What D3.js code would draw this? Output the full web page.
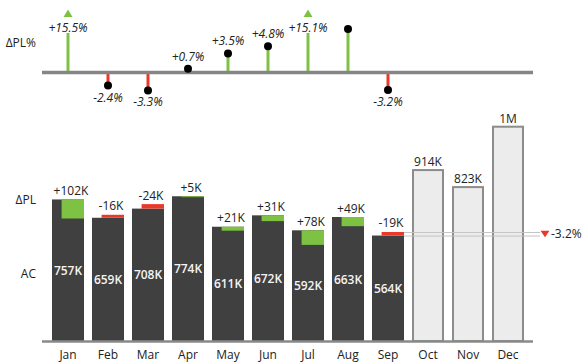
<!DOCTYPE html>
<html>
<head>
<meta charset="utf-8">
<script src="https://cdnjs.cloudflare.com/ajax/libs/d3/7.8.5/d3.min.js"></script>
<style>
  html, body { margin: 0; padding: 0; background: #fff; }
  svg { display: block; font-family: 'Open Sans', sans-serif; }
</style>
</head>
<body>
<div id="chart"></div>
<script>
// données (K)
const months = ['Jan', 'Feb', 'Mar', 'Apr', 'May', 'Jun', 'Jul', 'Aug', 'Sep', 'Oct', 'Nov', 'Dec'];
const ac = [757, 659, 708, 774, 611, 672, 592, 663, 564];          // Jan–Sep actual
const dpl = [102, -16, -24, 5, 21, 31, 78, 49, -19];              // AC - PL
const acLabels = ['757K', '659K', '708K', '774K', '611K', '672K', '592K', '663K', '564K'];
const dplLabels = ['+102K', '-16K', '-24K', '+5K', '+21K', '+31K', '+78K', '+49K', '-19K'];
const fc = [914, 823, 1146];                                        // Oct–Dec forecast
const fcLabels = ['914K', '823K', '1M'];
const dplPct = [15.5, -2.4, -3.3, 0.7, 3.5, 4.8, 15.1, 8.0, -3.2];
const dplPctLabels = ['+15.5%', '-2.4%', '-3.3%', '+0.7%', '+3.5%', '+4.8%', '+15.1%', '', '-3.2%'];
const yearPct = -3.2;
const yearPctLabel = '-3.2%';

const W = 587, H = 362;
const GREEN = '#7dc242', RED = '#e8392b', DARK = '#404040';

const svg = d3.select('#chart').append('svg').attr('width', W).attr('height', H);

const x = d3.scaleBand().domain(months).range([48, 528]).paddingInner(0.2).paddingOuter(0.1);
const bw = x.bandwidth();
const cx = m => x(m) + bw / 2;

// ---------- panneau haut : ΔPL% ----------
const yP = d3.scaleLinear().domain([0, 8]).range([72.5, 28.9]);
const outPct = 10;     // au-delà : valeur hors échelle
const stemPct = 7.25;  // hauteur de la tige tronquée

svg.append('text').attr('x', 36).attr('y', 47).attr('text-anchor', 'end')
  .style('font-size', '12px').attr('fill', '#222').text('ΔPL%');

const pct = dplPct.map((v, i) => ({ m: months[i], v, label: dplPctLabels[i], out: v > outPct }));

svg.append('g').selectAll('line').data(pct).join('line')
  .attr('x1', d => cx(d.m)).attr('x2', d => cx(d.m))
  .attr('y1', yP(0)).attr('y2', d => yP(d.out ? stemPct : d.v))
  .attr('stroke', d => d.v >= 0 ? GREEN : RED).attr('stroke-width', 3);

svg.append('line').attr('x1', 42).attr('x2', 533).attr('y1', yP(0)).attr('y2', yP(0))
  .attr('stroke', '#858585').attr('stroke-width', 3.5);

svg.append('g').selectAll('circle').data(pct.filter(d => !d.out)).join('circle')
  .attr('cx', d => cx(d.m)).attr('cy', d => yP(d.v)).attr('r', 4).attr('fill', '#000');

// triangles pour les valeurs hors échelle
svg.append('g').selectAll('path').data(pct.filter(d => d.out)).join('path')
  .attr('d', d => `M${cx(d.m) - 4.5},17 L${cx(d.m) + 4.5},17 L${cx(d.m)},9.5 Z`)
  .attr('fill', GREEN);

svg.append('g').selectAll('text').data(pct).join('text')
  .attr('x', d => cx(d.m))
  .attr('y', d => d.out ? yP(stemPct) - 1 : d.v >= 0 ? yP(d.v) - 8 : yP(d.v) + 16)
  .attr('text-anchor', 'middle')
  .style('font-size', '12px').style('font-style', 'italic').attr('fill', '#222')
  .text(d => d.label);

// ---------- panneau bas : AC / ΔPL ----------
const y = d3.scaleLinear().domain([0, 1000]).range([341, 154]);
const y0 = y(0);

svg.append('text').attr('x', 36).attr('y', 204).attr('text-anchor', 'end')
  .style('font-size', '12px').attr('fill', '#222').text('ΔPL');
svg.append('text').attr('x', 36).attr('y', 278).attr('text-anchor', 'end')
  .style('font-size', '12px').attr('fill', '#222').text('AC');

const bars = ac.map((v, i) => ({ m: months[i], ac: v, pl: v - dpl[i], d: dpl[i], acL: acLabels[i], dL: dplLabels[i] }));
const fcBars = fc.map((v, i) => ({ m: months[9 + i], v, label: fcLabels[i] }));

svg.append('g').selectAll('rect').data(fcBars).join('rect')
  .attr('x', d => x(d.m) + 1).attr('width', bw - 2)
  .attr('y', d => y(d.v)).attr('height', d => y0 - y(d.v))
  .attr('fill', '#ececec').attr('stroke', '#8c8c8c').attr('stroke-width', 2);

svg.append('g').selectAll('text').data(fcBars).join('text')
  .attr('x', d => cx(d.m)).attr('y', d => y(d.v) - 4).attr('text-anchor', 'middle')
  .style('font-size', '12px').attr('fill', '#222').text(d => d.label);

svg.append('g').selectAll('rect').data(bars).join('rect')
  .attr('x', d => x(d.m)).attr('width', bw)
  .attr('y', d => y(d.ac)).attr('height', d => y0 - y(d.ac))
  .attr('fill', DARK);

// boîtes de variance, décalées à droite
const off = bw * 0.3;
svg.append('g').selectAll('rect').data(bars).join('rect')
  .attr('x', d => x(d.m) + off).attr('width', bw - off)
  .attr('y', d => y(Math.max(d.ac, d.pl)))
  .attr('height', d => Math.abs(y(d.ac) - y(d.pl)))
  .attr('fill', d => d.d >= 0 ? GREEN : RED);

svg.append('g').selectAll('text').data(bars).join('text')
  .attr('x', d => cx(d.m) + 3).attr('y', d => y(Math.max(d.ac, d.pl)) - 4.5)
  .attr('text-anchor', 'middle')
  .style('font-size', '12px').attr('fill', '#222').text(d => d.dL);

svg.append('g').selectAll('text').data(bars).join('text')
  .attr('x', d => cx(d.m)).attr('y', d => (y(d.ac) + y0) / 2 + 4.5)
  .attr('text-anchor', 'middle')
  .style('font-size', '12px').style('font-weight', 600).attr('fill', '#f4f4f4').text(d => d.acL);

// lignes de référence depuis Sep
const last = bars[bars.length - 1];
const xr0 = x(last.m) + bw, xr1 = 540;
svg.append('g').selectAll('line').data([last.pl, last.ac]).join('line')
  .attr('x1', xr0).attr('x2', xr1).attr('y1', d => y(d) + 0.5).attr('y2', d => y(d) + 0.5)
  .attr('stroke', '#c4c4c4').attr('stroke-width', 1);

const ym = (y(last.pl) + y(last.ac)) / 2;
svg.append('path')
  .attr('d', `M540.5,${ym - 3} L549.5,${ym - 3} L545,${ym + 3.5} Z`)
  .attr('fill', yearPct < 0 ? RED : GREEN);
svg.append('text').attr('x', 551).attr('y', ym + 4.5)
  .style('font-size', '12px').attr('fill', '#222').text(yearPctLabel);

// axe
svg.append('line').attr('x1', 42).attr('x2', 533).attr('y1', y0 + 0.5).attr('y2', y0 + 0.5)
  .attr('stroke', '#8a8a8a').attr('stroke-width', 2.5);

const xAxis = svg.append('g').attr('transform', `translate(0,${y0 + 2})`)
  .call(d3.axisBottom(x).tickSize(0).tickPadding(7));
xAxis.select('.domain').remove();
xAxis.selectAll('text').style('font-size', '12px').style('font-family', "'Open Sans', sans-serif").attr('fill', '#222');
</script>
</body>
</html>
